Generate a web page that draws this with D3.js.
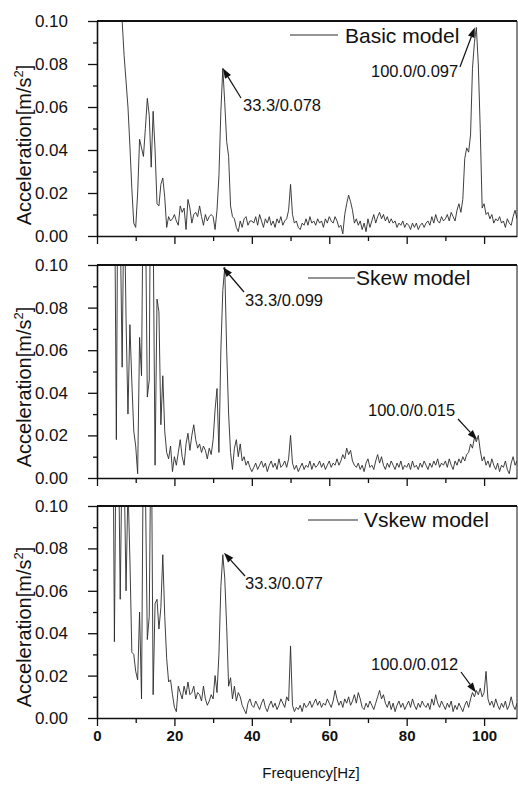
<!DOCTYPE html>
<html>
<head>
<meta charset="utf-8">
<script src="https://cdn.jsdelivr.net/npm/d3@7"></script>
<style>
  body { margin: 0; background: #fff; }
  svg { display: block; }
</style>
</head>
<body>
<svg id="chart"></svg>
<script>
// Three stacked acceleration spectra (Basic / Skew / Vskew model).
// Spectrum values are in 0.001 m/s^2, one sample every FREQ_STEP Hz from 0 Hz.

const FREQ_STEP = 0.5;

const basic = [
  300,300,290,280,260,240,220,200,180,160,
  140,125,112,100,84,72,60,42,22,6,
  4,20,45,41,37,50,64,56,32,58,
  40,15,14,24,27,18,4,9,7,8,
  10,7,5,14,11,13,3,17,13,6,
  10,11,9,14,9,5,10,7,9,10,
  9,3,12,28,58,78,62,44,37,14,
  9,8,4,2,7,4,8,9,5,7,
  7,6,9,5,10,7,4,8,6,9,
  5,7,4,8,6,9,5,7,8,12,
  24,10,6,7,4,3,6,5,8,5,
  9,6,7,5,8,6,7,4,8,6,
  9,7,6,9,7,4,5,1,10,15,
  19,16,12,6,8,5,7,3,6,2,
  8,4,7,10,6,9,11,8,10,7,
  9,6,8,6,7,4,6,5,7,4,
  6,5,3,6,4,6,3,5,6,4,
  6,7,5,9,6,10,7,6,9,7,
  8,10,7,11,9,7,12,15,11,17,
  36,41,39,47,78,90,97,80,50,13,
  15,10,11,8,10,6,8,7,9,6,
  7,4,8,6,5,9,12,8
];

const skew = [
  300,300,300,300,280,260,240,220,200,150,
  18,180,120,52,140,75,30,72,45,22,
  15,2,66,48,150,130,38,46,200,120,
  6,84,78,25,48,22,12,9,15,3,
  10,6,12,18,10,6,16,21,13,20,
  25,18,14,16,12,15,13,9,14,11,
  18,32,42,12,60,88,99,60,30,12,
  4,14,18,10,16,8,10,6,8,5,
  3,5,7,4,6,8,5,7,3,6,
  8,5,7,4,9,5,6,8,5,9,
  20,7,4,6,3,5,7,4,6,5,
  8,4,7,5,6,8,5,7,4,6,
  8,5,7,6,9,6,8,11,9,14,
  11,13,8,6,5,7,4,6,3,7,
  9,5,6,4,8,11,7,10,6,4,
  7,5,8,6,4,7,5,8,4,6,
  5,7,4,8,5,6,4,7,5,8,
  6,4,7,5,8,6,9,5,7,6,
  8,5,9,6,4,8,6,9,7,10,
  8,11,12,16,14,19,17,20,13,8,
  10,6,8,5,9,6,4,7,3,6,
  5,8,4,2,7,10,6,8
];

const vskew = [
  300,300,300,300,280,260,240,220,180,36,
  150,140,56,130,120,60,110,75,31,30,
  22,18,50,9,140,110,37,48,150,11,
  54,56,42,52,77,48,28,17,18,11,
  5,3,15,12,9,15,11,17,11,12,
  15,9,12,11,8,15,9,6,8,11,
  9,20,12,30,62,77,66,43,15,19,
  9,15,8,12,10,6,4,2,7,9,
  6,5,8,6,4,7,9,5,3,6,
  8,5,7,4,6,9,7,5,10,8,
  34,6,3,5,4,6,3,7,5,6,
  8,5,7,9,6,8,5,7,6,9,
  7,5,8,13,9,6,8,5,9,7,
  10,6,8,11,7,12,9,5,4,7,
  5,8,6,4,7,10,13,9,11,7,
  5,8,4,7,3,6,8,5,7,4,
  6,8,5,9,6,4,7,5,8,6,
  5,7,4,9,6,11,7,5,8,6,
  4,7,5,8,3,6,4,7,5,3,
  6,8,5,9,12,10,13,11,14,10,
  12,22,9,6,8,5,9,6,4,7,
  5,8,4,6,10,6,4,7
];

const SERIES = [basic, skew, vskew];
const MODEL_NAMES = ["Basic model", "Skew model", "Vskew model"];

const Y_MAJOR = [0, 0.02, 0.04, 0.06, 0.08, 0.10];
const Y_MINOR = [0.01, 0.03, 0.05, 0.07, 0.09];
const X_MAJOR = [0, 20, 40, 60, 80, 100];
const X_MINOR = [10, 30, 50, 70, 90];

// peak call-outs: frequency / amplitude of the arrow tip
const PEAK_TEXT = [
  ["33.3/0.078", "100.0/0.097"],
  ["33.3/0.099", "100.0/0.015"],
  ["33.3/0.077", "100.0/0.012"]
];
const PEAK_HZ = [[32.5, 97.6], [32.5, 98.2], [32.8, 97.9]];
const PEAK_VAL = [[0.078, 0.097], [0.099, 0.018], [0.078, 0.012]];

// ---- layout ----
const W = 518, H = 785;
const X0 = 97, X1 = 517;
const PANELS = [
  { top: 21,  bottom: 236 },
  { top: 265, bottom: 478 },
  { top: 506, bottom: 718 }
];
// label text position (x, baseline) and arrow tail for each call-out
const CALLOUT_POS = [
  [{ tx: 243, ty: 111, ax: 241, ay: 98 }, { tx: 371, ty: 77,  ax: 460, ay: 67 }],
  [{ tx: 245, ty: 306, ax: 244, ay: 292 }, { tx: 368, ty: 416, ax: 458, ay: 419 }],
  [{ tx: 245, ty: 589, ax: 245, ay: 576 }, { tx: 371, ty: 670, ax: 461, ay: 672 }]
];
const LEGEND_POS = [
  { x1: 290, x2: 338, y: 35,  tx: 345, ty: 43 },
  { x1: 308, x2: 355, y: 278, tx: 356, ty: 285 },
  { x1: 308, x2: 358, y: 520, tx: 364, ty: 527 }
];

const FONT = "'Liberation Sans', Arial, Helvetica, sans-serif";
const INK = "#111";
const TRACE = "#2a2a2a";

const svg = d3.select("#chart")
  .attr("width", W).attr("height", H)
  .style("font-family", FONT);

const x = d3.scaleLinear().domain([0, 108.5]).range([X0, X1]);

PANELS.forEach((p, k) => {
  const y = d3.scaleLinear().domain([0, 0.1]).range([p.bottom, p.top]);
  const g = svg.append("g");

  // clip the trace to the plot box (values above 0.1 run off the top)
  const clipId = "clip" + k;
  svg.append("clipPath").attr("id", clipId)
    .append("rect")
    .attr("x", X0).attr("y", p.top)
    .attr("width", X1 - X0).attr("height", p.bottom - p.top);

  const line = d3.line()
    .x((d, i) => x(i * FREQ_STEP))
    .y(d => y(d / 1000));

  g.append("path")
    .datum(SERIES[k])
    .attr("clip-path", `url(#${clipId})`)
    .attr("d", line)
    .attr("fill", "none")
    .attr("stroke", TRACE)
    .attr("stroke-width", 0.9)
    .attr("stroke-linejoin", "round");

  // y axis: major ticks with labels, minor ticks without
  const yAxis = g.append("g")
    .attr("transform", `translate(${X0},0)`)
    .call(d3.axisLeft(y).tickValues(Y_MAJOR).tickSize(9).tickSizeOuter(0)
      .tickPadding(20).tickFormat(d3.format(".2f")));
  g.append("g")
    .attr("transform", `translate(${X0},0)`)
    .call(d3.axisLeft(y).tickValues(Y_MINOR).tickSize(4).tickSizeOuter(0).tickFormat(""))
    .select(".domain").remove();
  yAxis.selectAll("text")
    .attr("font-size", 17).attr("font-family", FONT).attr("fill", INK);

  // x axis: ticks every 10 Hz pointing down
  const xAxis = g.append("g")
    .attr("transform", `translate(0,${p.bottom})`)
    .call(d3.axisBottom(x).tickValues(X_MAJOR).tickSize(8).tickSizeOuter(0)
      .tickPadding(4).tickFormat(k === 2 ? d3.format("d") : ""));
  g.append("g")
    .attr("transform", `translate(0,${p.bottom})`)
    .call(d3.axisBottom(x).tickValues(X_MINOR).tickSize(5).tickSizeOuter(0).tickFormat(""))
    .select(".domain").remove();
  xAxis.selectAll("text")
    .attr("font-size", 15).attr("font-weight", "bold")
    .attr("font-family", FONT).attr("fill", INK);

  g.selectAll(".domain").attr("stroke", INK).attr("stroke-width", 1.6);
  g.selectAll(".tick line").attr("stroke", INK).attr("stroke-width", 1.3);

  // top and right frame
  g.append("line")
    .attr("x1", X0).attr("x2", X1).attr("y1", p.top).attr("y2", p.top)
    .attr("stroke", INK).attr("stroke-width", 1.8);
  g.append("line")
    .attr("x1", X1).attr("x2", X1).attr("y1", p.top).attr("y2", p.bottom)
    .attr("stroke", INK).attr("stroke-width", 1);

  // y title
  const yt = g.append("text")
    .attr("transform", `translate(31,${p.bottom - 91}) rotate(-90)`)
    .attr("text-anchor", "middle")
    .attr("font-size", 20).attr("fill", INK);
  yt.append("tspan").text("Acceleration[m/s");
  yt.append("tspan").attr("font-size", 13).attr("dy", -8).text("2");
  yt.append("tspan").attr("dy", 8).text("]");

  // legend
  const lg = LEGEND_POS[k];
  g.append("line")
    .attr("x1", lg.x1).attr("x2", lg.x2).attr("y1", lg.y).attr("y2", lg.y)
    .attr("stroke", TRACE).attr("stroke-width", 1);
  g.append("text")
    .attr("x", lg.tx).attr("y", lg.ty)
    .attr("font-size", 21).attr("fill", INK)
    .text(MODEL_NAMES[k]);

  // peak call-outs with arrows
  PEAK_TEXT[k].forEach((label, j) => {
    const pos = CALLOUT_POS[k][j];
    const tipX = x(PEAK_HZ[k][j]), tipY = y(PEAK_VAL[k][j]);
    g.append("text")
      .attr("x", pos.tx).attr("y", pos.ty)
      .attr("font-size", 16.5).attr("fill", INK)
      .text(label);

    const ang = Math.atan2(tipY - pos.ay, tipX - pos.ax);
    const len = 10, half = 3.5;
    const bx = tipX - len * Math.cos(ang), by = tipY - len * Math.sin(ang);
    g.append("line")
      .attr("x1", pos.ax).attr("y1", pos.ay).attr("x2", bx).attr("y2", by)
      .attr("stroke", INK).attr("stroke-width", 1.2);
    g.append("path")
      .attr("d", `M${tipX},${tipY}L${bx + half * Math.sin(ang)},${by - half * Math.cos(ang)}` +
                 `L${bx - half * Math.sin(ang)},${by + half * Math.cos(ang)}Z`)
      .attr("fill", INK);
  });
});

// x title
svg.append("text")
  .attr("x", 311).attr("y", 778)
  .attr("text-anchor", "middle")
  .attr("font-size", 15).attr("fill", INK)
  .text("Frequency[Hz]");
</script>
</body>
</html>
